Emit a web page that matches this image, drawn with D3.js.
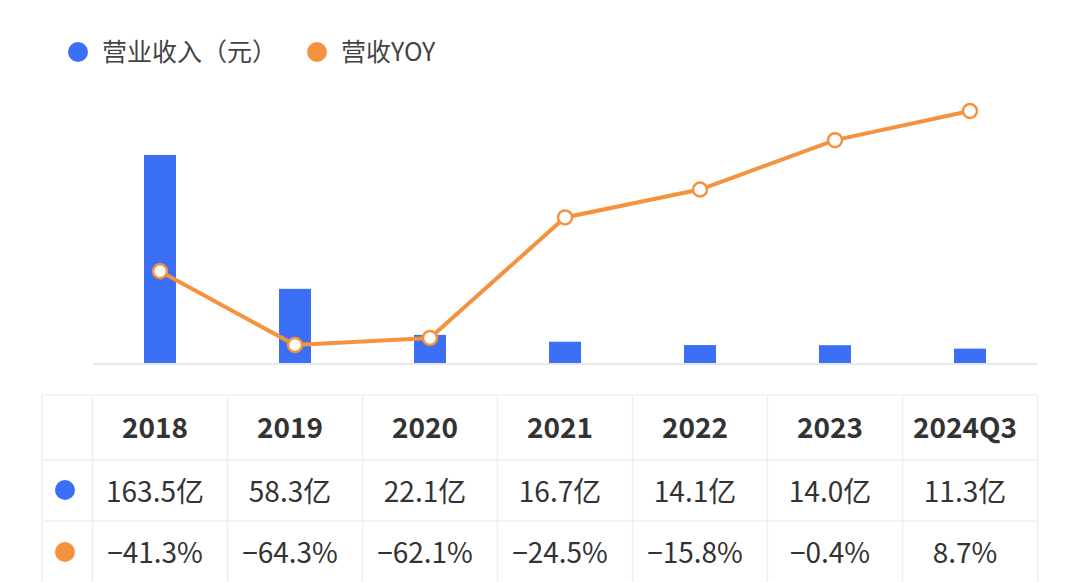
<!DOCTYPE html>
<html><head><meta charset="utf-8">
<script src="https://cdn.jsdelivr.net/npm/d3@7"></script>
<style>body{margin:0;background:#fff}svg{display:block}text{font-family:"Noto Sans CJK SC","Noto Sans",sans-serif}</style>
</head><body><div id="chart"></div>
<script>
const years = ["2018", "2019", "2020", "2021", "2022", "2023", "2024Q3"];
const revenue = [163.5, 58.3, 22.1, 16.7, 14.1, 14.0, 11.3];
const yoy = [-41.3, -64.3, -62.1, -24.5, -15.8, -0.4, 8.7];
const revLabels = ["163.5亿", "58.3亿", "22.1亿", "16.7亿", "14.1亿", "14.0亿", "11.3亿"];
const yoyLabels = ["\u221241.3%", "\u221264.3%", "\u221262.1%", "\u221224.5%", "\u221215.8%", "\u22120.4%", "8.7%"];

const blue = "#3b6ff5", orange = "#f5923e";
const W = 1080, H = 582;
const svg = d3.select("#chart").append("svg").attr("width", W).attr("height", H);

// x positions
const x = d3.scalePoint().domain(years).range([160, 970]);
// revenue scale
const yBar = d3.scaleLinear().domain([0, 163.5]).range([363, 155]);
// yoy scale
const yLine = d3.scaleLinear().domain([-64.3, 8.7]).range([345, 111]);

// legend
const legend = [{ t: "营业收入（元）", c: blue, x: 78 }, { t: "营收YOY", c: orange, x: 317 }];
legend.forEach(d => {
    svg.append("circle").attr("cx", d.x).attr("cy", 52).attr("r", 10).attr("fill", d.c);
    svg.append("text").attr("x", d.x + 24).attr("y", 61).text(d.t)
        .attr("font-size", 25).attr("fill", "#444");
});

// baseline
svg.append("line").attr("x1", 93).attr("x2", 1037).attr("y1", 364).attr("y2", 364)
    .attr("stroke", "#e8e8e8").attr("stroke-width", 2);

// bars
svg.selectAll(".bar").data(revenue).enter().append("rect")
    .attr("x", (d, i) => x(years[i]) - 16)
    .attr("y", d => yBar(d))
    .attr("width", 32)
    .attr("height", d => yBar(0) - yBar(d))
    .attr("fill", blue);

// line
const line = d3.line().x((d, i) => x(years[i])).y(d => yLine(d));
svg.append("path").datum(yoy).attr("d", line).attr("fill", "none")
    .attr("stroke", orange).attr("stroke-width", 4);
svg.selectAll(".pt").data(yoy).enter().append("circle")
    .attr("cx", (d, i) => x(years[i])).attr("cy", d => yLine(d)).attr("r", 7)
    .attr("fill", "#fff").attr("stroke", orange).attr("stroke-width", 2.5);

// table
const step = x.step();
const tLeft = 42, firstCol = x(years[0]) - step / 2, tRight = x(years[6]) + step / 2;
const rowY = [395, 460, 521, 600];
const grid = svg.append("g").attr("stroke", "#efefef").attr("stroke-width", 1.5);
rowY.slice(0, 3).forEach(y => grid.append("line").attr("x1", tLeft).attr("x2", tRight).attr("y1", y).attr("y2", y));
grid.append("line").attr("x1", tLeft).attr("x2", tLeft).attr("y1", 395).attr("y2", H);
years.forEach((yr, i) => {
    const xl = x(yr) - step / 2;
    grid.append("line").attr("x1", xl).attr("x2", xl).attr("y1", 395).attr("y2", H);
});
grid.append("line").attr("x1", tRight).attr("x2", tRight).attr("y1", 395).attr("y2", H);

const tx = svg.append("g").attr("text-anchor", "middle").attr("fill", "#333").attr("font-size", 28);
years.forEach((yr, i) => {
    tx.append("text").attr("x", x(yr) - 5).attr("y", 438).attr("font-weight", 600).text(yr);
    tx.append("text").attr("x", x(yr) - 5).attr("y", 502).text(revLabels[i]);
    tx.append("text").attr("x", x(yr) - 5).attr("y", 563).text(yoyLabels[i]);
});
svg.append("circle").attr("cx", 65).attr("cy", 490).attr("r", 10).attr("fill", blue);
svg.append("circle").attr("cx", 65).attr("cy", 552).attr("r", 10).attr("fill", orange);
</script></body></html>
